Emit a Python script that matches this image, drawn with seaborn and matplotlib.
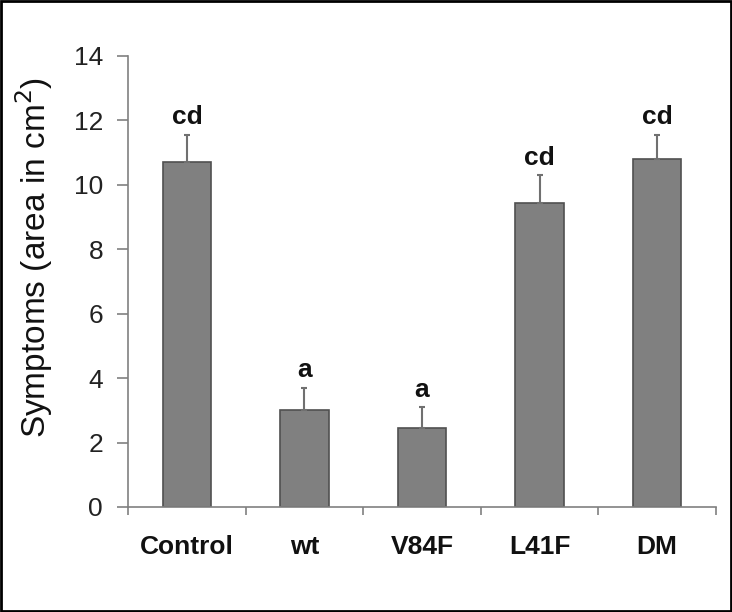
import matplotlib
matplotlib.use("Agg")
import matplotlib.pyplot as plt
import seaborn as sns
import pandas as pd
import numpy as np
from matplotlib.patches import Rectangle

categories = ["Control", "wt", "V84F", "L41F", "DM"]
means = [10.7, 3.0, 2.45, 9.45, 10.8]
errors = [0.85, 0.7, 0.65, 0.85, 0.75]
letters = ["cd", "a", "a", "cd", "cd"]
yticks = [0, 2, 4, 6, 8, 10, 12, 14]

sns.set_theme(style="white")
plt.rcParams['font.family'] = ['Liberation Sans', 'DejaVu Sans']

df = pd.DataFrame({"cat": categories, "val": means})

fig = plt.figure(figsize=(7.32, 6.12), dpi=100)
ax = fig.add_axes([0.175, 0.1716, 0.803, 0.737])
sns.barplot(data=df, x="cat", y="val", order=categories, color="#808080",
            width=0.41, edgecolor="#505050", linewidth=1.2, saturation=1,
            errorbar=None, ax=ax)

xpos = np.arange(len(categories))
ax.errorbar(xpos, means, yerr=[np.zeros(len(errors)), errors], fmt="none",
            ecolor="#707070", elinewidth=1.5, capsize=2, capthick=1.5, zorder=1)

for x, m, e, t in zip(xpos, means, errors, letters):
    ax.annotate(t, (x, m + e), xytext=(0, 4), textcoords="offset points",
                ha="center", va="bottom", fontsize=19, fontweight="bold",
                color="#111111")

ax.set_xlim(-0.5, 4.5)
ax.set_ylim(0, 14)
ax.set_yticks(yticks)
ax.set_yticklabels([str(v) for v in yticks], fontsize=19, color="#222222")
ax.set_xticks(xpos)
ax.set_xticklabels(categories, fontsize=19, fontweight="bold", color="#111111")
ax.set_xticks(np.arange(-0.5, 5.0, 1.0), minor=True)
ax.tick_params(axis="x", which="major", bottom=False, length=0, pad=20)
ax.tick_params(axis="x", which="minor", bottom=True, length=6, color="#808080", width=1.2, direction="out")
ax.tick_params(axis="y", which="major", left=True, length=8, color="#808080", width=1.2, direction="out", pad=10)
ax.set_xlabel("")
ax.set_ylabel("Symptoms (area in cm$^{2}$)", fontsize=24, color="#111111")
ax.yaxis.set_label_coords(-0.125, 0.554)

for s in ["top", "right"]:
    ax.spines[s].set_visible(False)
for s in ["left", "bottom"]:
    ax.spines[s].set_color("#808080")
    ax.spines[s].set_linewidth(1.2)

fig.patches.append(Rectangle((0.002, 0.002), 0.996, 0.996, transform=fig.transFigure,
                             fill=False, edgecolor="black", linewidth=2))

fig.savefig("out.png", dpi=100)
